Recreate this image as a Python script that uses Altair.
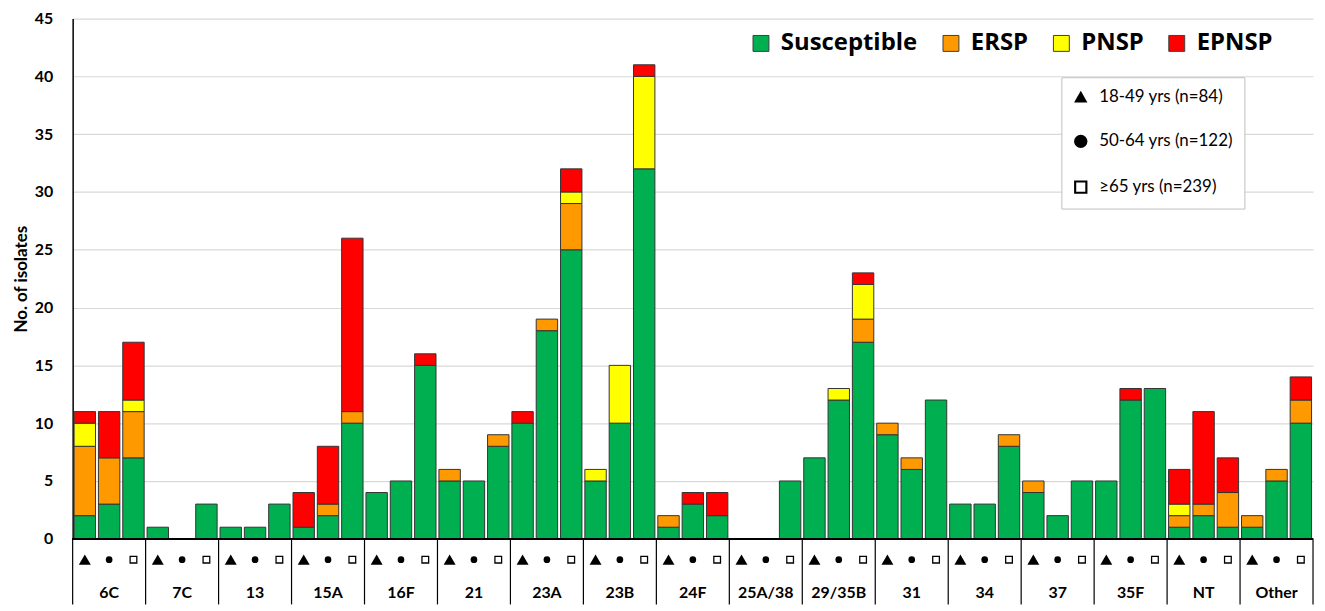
import altair as alt
import pandas as pd

groups = ["6C", "7C", "13", "15A", "16F", "21", "23A", "23B", "24F", "25A/38",
          "29/35B", "31", "34", "37", "35F", "NT", "Other"]
ages = ["18-49 yrs (n=84)", "50-64 yrs (n=122)", "\u226565 yrs (n=239)"]
categories = ["Susceptible", "ERSP", "PNSP", "EPNSP"]
colors = ["#00B050", "#FF9900", "#FFFF00", "#FF0000"]

# per group: 18-49, 50-64, >=65
susceptible = [2, 3, 7, 1, 0, 3, 1, 1, 3, 1, 2, 10, 4, 5, 15, 5, 5, 8,
               10, 18, 25, 5, 10, 32, 1, 3, 2, 0, 0, 5, 7, 12, 17, 9, 6, 12,
               3, 3, 8, 4, 2, 5, 5, 12, 13, 1, 2, 1, 1, 5, 10]
ersp = [6, 4, 4, 0, 0, 0, 0, 0, 0, 0, 1, 1, 0, 0, 0, 1, 0, 1,
        0, 1, 4, 0, 0, 0, 1, 0, 0, 0, 0, 0, 0, 0, 2, 1, 1, 0,
        0, 0, 1, 1, 0, 0, 0, 0, 0, 1, 1, 3, 1, 1, 2]
pnsp = [2, 0, 1, 0, 0, 0, 0, 0, 0, 0, 0, 0, 0, 0, 0, 0, 0, 0,
        0, 0, 1, 1, 5, 8, 0, 0, 0, 0, 0, 0, 0, 1, 3, 0, 0, 0,
        0, 0, 0, 0, 0, 0, 0, 0, 0, 1, 0, 0, 0, 0, 0]
epnsp = [1, 4, 5, 0, 0, 0, 0, 0, 0, 3, 5, 15, 0, 0, 1, 0, 0, 0,
         1, 0, 2, 0, 0, 1, 0, 1, 2, 0, 0, 0, 0, 0, 1, 0, 0, 0,
         0, 0, 0, 0, 0, 0, 0, 1, 0, 3, 8, 3, 0, 0, 2]

W, H = 1247, 523
FONT = "Lato"
HOLLOW_SQUARE = "M-1,-1H1V1H-1Z M-0.68,-0.68V0.68H0.68V-0.68Z"

series = [susceptible, ersp, pnsp, epnsp]
rows = []
for i in range(len(groups) * 3):
    for k, cat in enumerate(categories):
        rows.append(dict(idx=i, group=groups[i // 3], age=ages[i % 3],
                         cat=cat, order=k, value=series[k][i]))
bars_df = pd.DataFrame(rows)

sym_df = pd.DataFrame([dict(idx=i, age=ages[i % 3]) for i in range(len(groups) * 3)])
lab_df = pd.DataFrame([dict(center=3 * g + 1, group=groups[g]) for g in range(len(groups))])
sep_df = pd.DataFrame([dict(b=3 * g - 0.5) for g in range(len(groups) + 1)])

xscale = alt.Scale(domain=[-0.5, len(groups) * 3 - 0.5], nice=False, zero=False)
yscale = alt.Scale(domain=[0, 45], nice=False)

bars = alt.Chart(bars_df).transform_filter("datum.value > 0").transform_stack(
    stack="value", groupby=["idx"], as_=["y0", "y1"],
    sort=[alt.SortField(field="order", order="ascending")]
).transform_calculate(
    xa="datum.idx - 0.44", xb="datum.idx + 0.44"
).mark_bar(stroke="#333333", strokeWidth=1).encode(
    x=alt.X("xa:Q", scale=xscale, axis=None),
    x2="xb:Q",
    y=alt.Y("y0:Q", scale=yscale,
            axis=alt.Axis(values=list(range(0, 46, 5)), title="No. of isolates",
                          grid=True, gridColor="#d9d9d9", gridWidth=1.2,
                          ticks=False, domainColor="#000000", domainWidth=1.5,
                          labelFont=FONT, labelFontWeight="bold", labelFontSize=16,
                          labelColor="#000000", labelPadding=20,
                          titleFont=FONT, titleFontWeight="bold", titleFontSize=17,
                          titleColor="#000000", titlePadding=4)),
    y2="y1:Q",
    color=alt.Color("cat:N", scale=alt.Scale(domain=categories, range=colors),
                    legend=alt.Legend(title=None, orient="none", direction="horizontal",
                                      legendX=680, legendY=13, padding=0,
                                      symbolType="square", symbolSize=256,
                                      symbolStrokeColor="#404040", symbolStrokeWidth=1,
                                      labelFont="Open Sans", labelFontWeight="bold",
                                      labelFontSize=24, labelColor="#000000",
                                      labelOffset=8, columnPadding=21)),
)

zero_rule = alt.Chart(sep_df).mark_rule(color="#000000", strokeWidth=1.5).encode(
    y=alt.datum(0, scale=yscale)
)

seps = alt.Chart(sep_df).mark_rule(color="#000000", strokeWidth=1.2).encode(
    x=alt.X("b:Q", scale=xscale, axis=None),
    y=alt.value(H),
    y2=alt.value(H + 66),
)

points = alt.Chart(sym_df).mark_point(filled=True, color="#000000", strokeWidth=0,
                                      opacity=1).encode(
    x=alt.X("idx:Q", scale=xscale, axis=None),
    y=alt.value(H + 21),
    shape=alt.Shape("age:N", scale=alt.Scale(domain=ages,
                                             range=["triangle-up", "circle", HOLLOW_SQUARE]),
                    legend=alt.Legend(title=None, orient="none", legendX=994, legendY=59,
                                      padding=11, strokeColor="#bfbfbf", fillColor="#ffffff",
                                      symbolSize=180, symbolFillColor="#000000",
                                      labelFont=FONT, labelFontSize=17, labelColor="#000000",
                                      labelOffset=10, rowPadding=25, labelLimit=400,
                                      labelExpr="datum.label + '\u00a0\u00a0\u00a0\u00a0\u00a0\u00a0\u00a0\u00a0'")),
    size={"condition": [{"test": "datum.age == '%s'" % ages[0], "value": 144},
                        {"test": "datum.age == '%s'" % ages[1], "value": 45}],
          "value": 64},
)

labels = alt.Chart(lab_df).mark_text(font=FONT, fontWeight="bold", fontSize=16,
                                     color="#000000", baseline="middle").encode(
    x=alt.X("center:Q", scale=xscale, axis=None),
    y=alt.value(H + 55),
    text="group:N",
)

chart = alt.layer(bars, zero_rule, seps, points, labels).properties(
    width=W, height=H,
    autosize=alt.AutoSizeParams(type="none"),
    padding={"left": 65, "top": 9, "right": 4, "bottom": 70},
).configure_view(stroke=None)

chart.save("out.html", embed_options={"renderer": "svg", "actions": False})
